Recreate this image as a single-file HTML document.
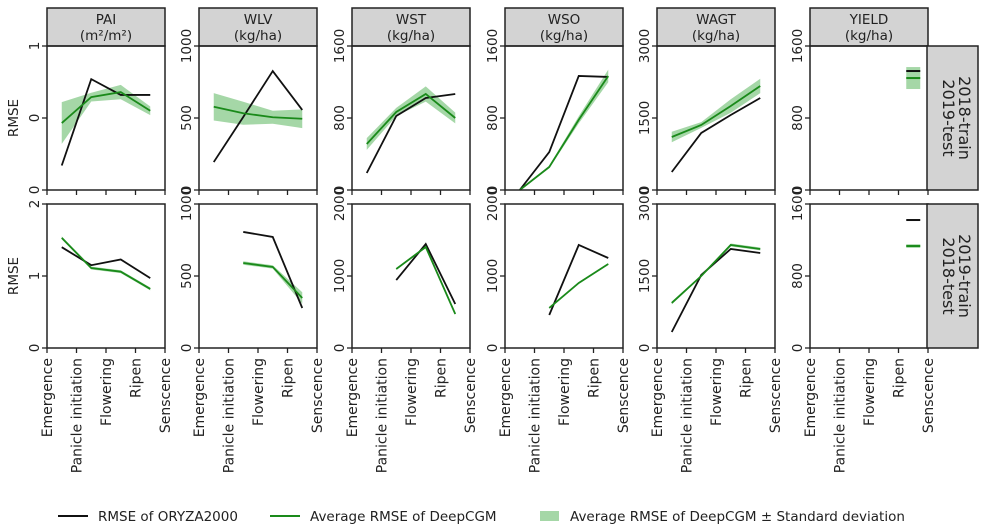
<!DOCTYPE html>
<html><head><meta charset="utf-8"><style>
body{margin:0;background:#fff;}
svg{display:block;font-family:"DejaVu Sans","Liberation Sans",sans-serif;}
</style></head><body>
<svg id="c" width="992" height="530"></svg>
<script>
const stages=["Emergence","Panicle initiation","Flowering","Ripen","Senscence"];
const vars=["PAI","WLV","WST","WSO","WAGT","YIELD"];
const units=["(m²/m²)","(kg/ha)","(kg/ha)","(kg/ha)","(kg/ha)","(kg/ha)"];
const rowLabels=[["2018-train","2019-test"],["2019-train","2018-test"]];
const yMaxTop=[1,1000,1600,1600,3000,1600];
const yMaxBot=[2,1000,2000,2000,3000,1600];
const yTickLabelsTop=[["0","0","1"],["0","500","1000"],["0","800","1600"],["0","800","1600"],["0","1500","3000"],["0","800","1600"]];
const yTickLabelsBot=[["0","1","2"],["0","500","1000"],["0","1000","2000"],["0","1000","2000"],["0","1500","3000"],["0","800","1600"]];
const oryzaTop=[[0.17,0.77,0.66,0.66],[194,507,826,556],[189,822,1022,1067],[0,422,1267,1256],[375,1188,1563,1917],[null,null,null,1322]];
const deepTop=[[0.465,0.645,0.68,0.55],[578,533,505,495],[511,867,1067,800],[0,256,780,1267],[1104,1354,1750,2167],[null,null,null,1244]];
const sdTop=[[0.145,0.03,0.05,0.03],[95,80,45,65],[65,45,85,60],[0,15,40,70],[110,60,140,150],[null,null,null,122]];
const oryzaBot=[[1.40,1.15,1.23,0.97],[null,806,771,278],[null,944,1444,611],[null,458,1431,1250],[333,1521,2063,1979],[null,null,null,1422]];
const deepBot=[[1.53,1.11,1.06,0.82],[null,590,563,347],[null,1097,1403,472],[null,556,903,1167],[938,1500,2146,2063],[null,null,null,1133]];
const sdBot=[[0.02,0.02,0.02,0.02],[null,12,12,40],[null,10,15,10],[null,10,10,10],[30,20,30,30],[null,null,null,20]];

const NS="http://www.w3.org/2000/svg";
const svg=document.getElementById('c');
function mk(tag,at,parent){const e=document.createElementNS(NS,tag);for(const k in at)e.setAttribute(k,at[k]);(parent||svg).appendChild(e);return e;}
const lefts=[47,199,352,505,657,810], W=118;
const rows=[{top:46,bot:190},{top:204,bot:348}];
function xPos(p,i){return lefts[p]+W*(i+0.5)/4;}

for(let p=0;p<6;p++){
  const s=mk('rect',{x:lefts[p],y:8,width:W,height:38,fill:'#d3d3d3',stroke:'#222','stroke-width':1.5});
  
  
  const t=mk('text',{x:lefts[p]+W/2,y:24,'text-anchor':'middle','font-size':13.5,fill:'#222'});t.textContent=vars[p];
  
  const u=mk('text',{x:lefts[p]+W/2,y:40,'text-anchor':'middle','font-size':13.5,fill:'#222'});u.textContent=units[p];
  
  for(let r=0;r<2;r++){
    const R=rows[r];
    const ymax=r?yMaxBot[p]:yMaxTop[p];
    const labs=r?yTickLabelsBot[p]:yTickLabelsTop[p];
    const or=r?oryzaBot[p]:oryzaTop[p], dp=r?deepBot[p]:deepTop[p], sd=r?sdBot[p]:sdTop[p];
    const y=v=>R.bot-(v/ymax)*(R.bot-R.top);
    const g=mk('g',{});
    
    
    let idx=[];for(let i=0;i<4;i++)if(dp[i]!=null)idx.push(i);
    if(idx.length>1){
      let pts=idx.map(i=>xPos(p,i)+','+y(dp[i]+sd[i]));
      pts=pts.concat(idx.slice().reverse().map(i=>xPos(p,i)+','+y(dp[i]-sd[i])));
      const b=mk('polygon',{points:pts.join(' '),fill:'#4caf50','fill-opacity':0.5},g);
      
    } else if(idx.length==1){
      const i=idx[0];
      const b=mk('rect',{x:xPos(p,i)-7,y:y(dp[i]+sd[i]),width:14,height:y(dp[i]-sd[i])-y(dp[i]+sd[i]),fill:'#4caf50','fill-opacity':0.5},g);
      
    }
    function line(arr,col,name){
      let id=[];for(let i=0;i<4;i++)if(arr[i]!=null)id.push(i);
      let e;
      if(id.length>1) e=mk('polyline',{points:id.map(i=>xPos(p,i)+','+y(arr[i])).join(' '),fill:'none',stroke:col,'stroke-width':1.8},g);
      else if(id.length==1){const i=id[0];e=mk('line',{x1:xPos(p,i)-7,x2:xPos(p,i)+7,y1:y(arr[i]),y2:y(arr[i]),stroke:col,'stroke-width':2},g);}
      if(e){}
    }
    line(or,'#111','oryza-line');
    line(dp,'#1a8a1a','deepcgm-line');
    mk('rect',{x:lefts[p],y:R.top,width:W,height:R.bot-R.top,fill:'none',stroke:'#222','stroke-width':1.5},g);
    for(let k=0;k<3;k++){
      const v=ymax*k/2, yy=y(v);
      mk('line',{x1:lefts[p]-5,x2:lefts[p],y1:yy,y2:yy,stroke:'#222','stroke-width':1.3},g);
      const tl=mk('text',{x:0,y:0,transform:`translate(${lefts[p]-8},${yy}) rotate(-90)`,'text-anchor':'middle','font-size':13.5,fill:'#222'},g);
      tl.textContent=labs[k];
      
    }
    for(let k=0;k<5;k++){
      const xx=lefts[p]+W*k/4;
      mk('line',{x1:xx,x2:xx,y1:R.bot,y2:R.bot+5,stroke:'#222','stroke-width':1.3},g);
      if(r==1){
        const xl=mk('text',{x:0,y:0,transform:`translate(${xx+5},${R.bot+10}) rotate(-90)`,'text-anchor':'end','font-size':14,fill:'#222'},g);
        xl.textContent=stages[k];
        
      }
    }
  }
}
for(let r=0;r<2;r++){
  const R=rows[r];
  const s=mk('rect',{x:927,y:R.top,width:51,height:R.bot-R.top,fill:'#d3d3d3',stroke:'#222','stroke-width':1.5});
  
  const cy=(R.top+R.bot)/2;
  const t1=mk('text',{x:0,y:0,transform:`translate(959,${cy}) rotate(90)`,'text-anchor':'middle','font-size':16,fill:'#222'});t1.textContent=rowLabels[r][0];
  
  const t2=mk('text',{x:0,y:0,transform:`translate(943,${cy}) rotate(90)`,'text-anchor':'middle','font-size':16,fill:'#222'});t2.textContent=rowLabels[r][1];
  
  const yl=mk('text',{x:0,y:0,transform:`translate(18,${cy}) rotate(-90)`,'text-anchor':'middle','font-size':13.5,fill:'#222'});yl.textContent='RMSE';
  
}
const lg=mk('g',{});

mk('line',{x1:58,x2:88,y1:516,y2:516,stroke:'#111','stroke-width':2},lg);
let lt=mk('text',{x:98,y:521,'font-size':13.5,fill:'#222'},lg);lt.textContent='RMSE of ORYZA2000';

mk('line',{x1:270,x2:300,y1:516,y2:516,stroke:'#1a8a1a','stroke-width':2},lg);
lt=mk('text',{x:310,y:521,'font-size':13.5,fill:'#222'},lg);lt.textContent='Average RMSE of DeepCGM';

mk('rect',{x:540,y:511,width:19,height:10,fill:'#4caf50','fill-opacity':0.5},lg);
lt=mk('text',{x:570,y:521,'font-size':13.5,fill:'#222'},lg);lt.textContent='Average RMSE of DeepCGM ± Standard deviation';

</script>
</body></html>
